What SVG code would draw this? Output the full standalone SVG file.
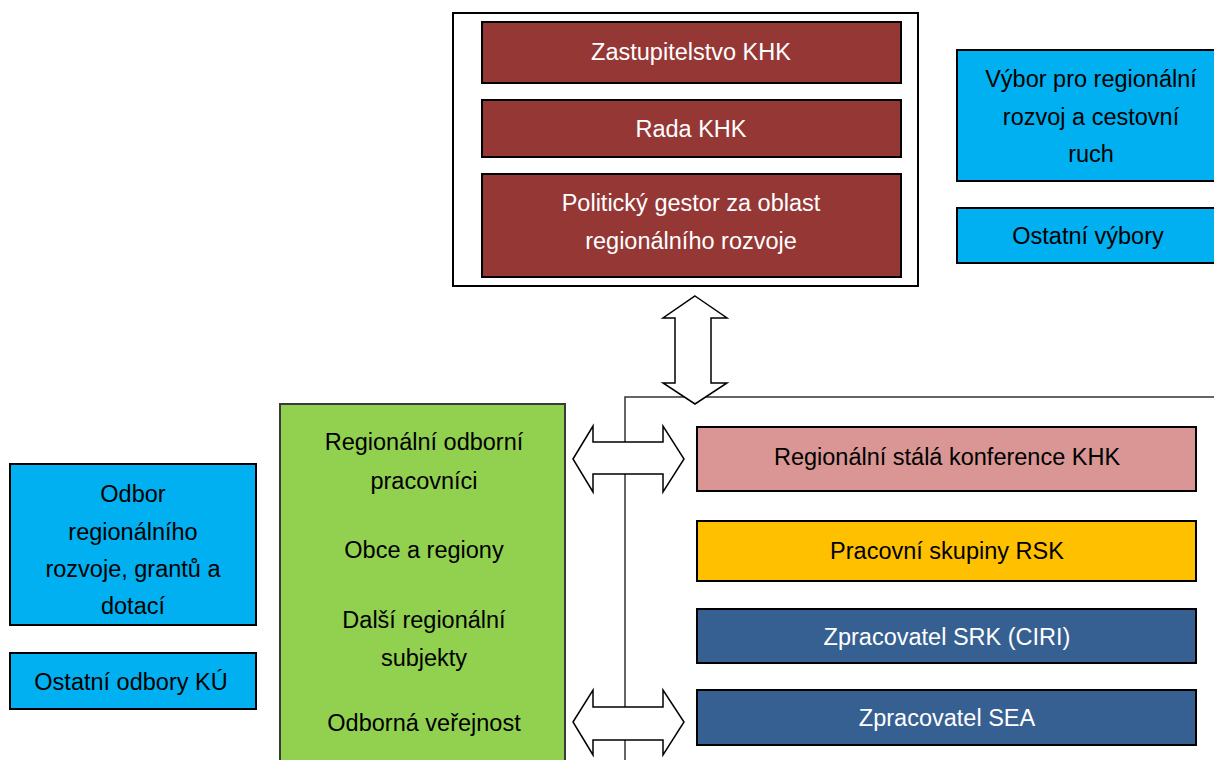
<svg xmlns="http://www.w3.org/2000/svg" width="1214" height="760" viewBox="0 0 1214 760">
<style>
text{font-family:"Liberation Sans",Arial,sans-serif;font-size:23.5px;text-anchor:middle}
.w{fill:#ffffff}
.k{fill:#000000}
.box{stroke:#000;stroke-width:2}
.red{fill:#953735}
.blue{fill:#00b0f0}
.green{fill:#92d050;stroke:#3a3a3a;stroke-width:2}
.pink{fill:#d99694}
.org{fill:#ffc000}
.dblue{fill:#376092}
.arrow{fill:#fff;stroke:#000;stroke-width:1.5;stroke-linejoin:miter}
</style>
<rect width="1214" height="760" fill="#fff"/>
<g id="top-frame">
<rect x="453" y="13" width="465" height="273" fill="#fff" stroke="#000" stroke-width="2"/>
</g>
<g id="zastupitelstvo"><rect class="box red" x="482" y="22" width="419" height="61"/><text class="w" x="691" y="60">Zastupitelstvo KHK</text></g>
<g id="rada"><rect class="box red" x="482" y="100" width="419" height="57"/><text class="w" x="691" y="137">Rada KHK</text></g>
<g id="gestor"><rect class="box red" x="482" y="174" width="419" height="103"/><text class="w" x="691" y="211">Politický gestor za oblast</text><text class="w" x="691" y="249">regionálního rozvoje</text></g>
<g id="vybor"><rect class="box blue" x="957" y="50" width="262" height="131"/><text class="k" x="1091" y="87">Výbor pro regionální</text><text class="k" x="1091" y="125">rozvoj a cestovní</text><text class="k" x="1091" y="162">ruch</text></g>
<g id="ostatni-vybory"><rect class="box blue" x="957" y="208" width="262" height="55"/><text class="k" x="1088" y="244">Ostatní výbory</text></g>
<g id="connectors">
<polyline points="625,760 625,397 1214,397" fill="none" stroke="#333" stroke-width="1.5"/>
<polygon class="arrow" points="695,296 727,318 711,318 711,383 727,383 695,404 663,383 675,383 675,318 663,318"/>
<polygon class="arrow" points="573,459 593,426 593,442 663,442 663,426 684,459 663,492 663,474 593,474 593,492"/>
<polygon class="arrow" points="573,722 593,690 593,707 663,707 663,690 684,722 663,755 663,740 593,740 593,755"/>
</g>
<g id="odbor"><rect class="box blue" x="10" y="464" width="246" height="161"/><text class="k" x="133" y="502">Odbor</text><text class="k" x="133" y="540">regionálního</text><text class="k" x="133" y="577">rozvoje, grantů a</text><text class="k" x="133" y="614">dotací</text></g>
<g id="ostatni-odbory"><rect class="box blue" x="10" y="653" width="246" height="56"/><text class="k" x="131" y="690">Ostatní odbory KÚ</text></g>
<g id="regionalni-subjekty"><rect class="green" x="280" y="404" width="285" height="370"/>
<text class="k" x="424" y="450">Regionální odborní</text><text class="k" x="424" y="489">pracovníci</text>
<text class="k" x="424" y="558">Obce a regiony</text>
<text class="k" x="424" y="628">Další regionální</text><text class="k" x="424" y="666">subjekty</text>
<text class="k" x="424" y="731">Odborná veřejnost</text></g>
<g id="rsk"><rect class="box pink" x="697" y="427" width="499" height="64"/><text class="k" x="947" y="465">Regionální stálá konference KHK</text></g>
<g id="pracovni-skupiny"><rect class="box org" x="697" y="521" width="499" height="60"/><text class="k" x="947" y="559">Pracovní skupiny RSK</text></g>
<g id="srk"><rect class="box dblue" x="697" y="609" width="499" height="54"/><text class="w" x="947" y="645">Zpracovatel SRK (CIRI)</text></g>
<g id="sea"><rect class="box dblue" x="697" y="690" width="499" height="55"/><text class="w" x="947" y="726">Zpracovatel SEA</text></g>
</svg>
